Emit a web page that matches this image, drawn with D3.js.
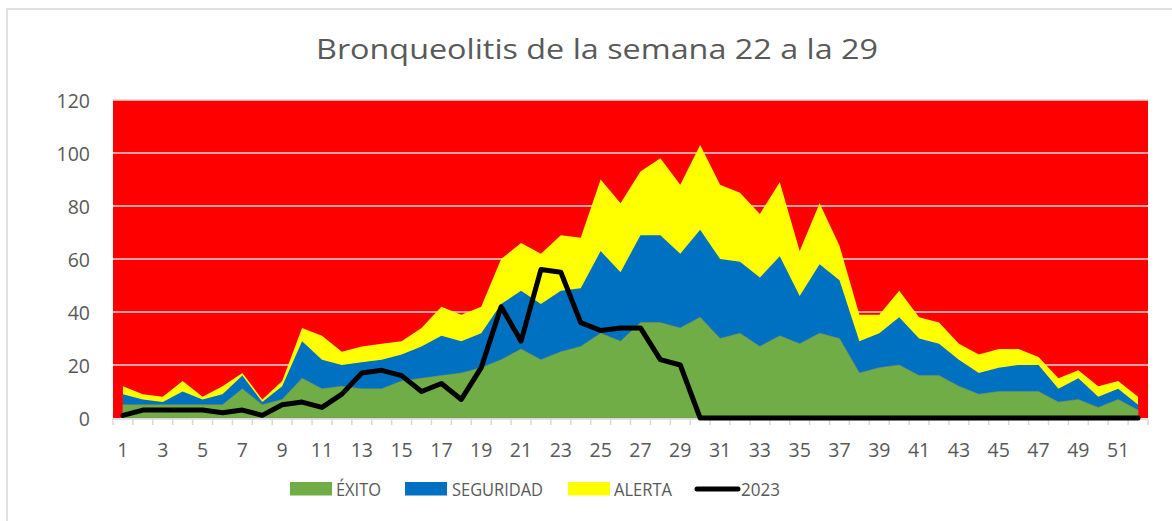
<!DOCTYPE html>
<html>
<head>
<meta charset="utf-8">
<script src="https://cdn.jsdelivr.net/npm/d3@7"></script>
<style>
  html, body { margin: 0; padding: 0; background: #ffffff; }
  svg { display: block; }
  text { font-family: "Open Sans", "Liberation Sans", sans-serif; fill: #595959; }
</style>
</head>
<body>
<svg id="chart" width="1172" height="521"></svg>
<script>
const title = "Bronqueolitis de la semana 22 a la 29";
const weeks = d3.range(1, 53);
const yTicks = [0, 20, 40, 60, 80, 100, 120];
const seriesNames = ["ÉXITO", "SEGURIDAD", "ALERTA", "2023"];
const seriesColors = ["#70ad47", "#0070c0", "#ffff00", "#000000"];

const exito = [5,5,5,5,5,5,11,5,7,15,11,12,11,11,14,15,16,17,19,22,26,22,25,27,32,29,36,36,34,38,30,32,27,31,28,32,30,17,19,20,16,16,12,9,10,10,10,6,7,4,7,3];
const seguridad = [9,7,6,10,7,9,16,6,12,29,22,20,21,22,24,27,31,29,32,43,48,43,48,49,63,55,69,69,62,71,60,59,53,61,46,58,52,29,32,38,30,28,22,17,19,20,20,11,15,8,11,5];
const alerta = [12,9,8,14,8,12,17,7,14,34,31,25,27,28,29,34,42,39,42,60,66,62,69,68,90,81,93,98,88,103,88,85,77,89,63,81,65,39,39,48,38,36,28,24,26,26,23,15,18,12,14,8];
const casos2023 = [1,3,3,3,3,2,3,1,5,6,4,9,17,18,16,10,13,7,19,42,29,56,55,36,33,34,34,22,20,0,0,0,0,0,0,0,0,0,0,0,0,0,0,0,0,0,0,0,0,0,0,0];

const svg = d3.select("#chart");
const W = 1172, H = 521;
const plot = { left: 113, right: 1148, top: 100, bottom: 418 };

// outer chart frame
svg.append("rect").attr("x", 7).attr("y", 9).attr("width", W + 20).attr("height", H + 20)
  .attr("fill", "#ffffff").attr("stroke", "#d9d9d9").attr("stroke-width", 1.5);

const x = d3.scaleBand().domain(weeks).range([plot.left, plot.right]).padding(0);
const cx = w => x(w) + x.bandwidth() / 2;
const y = d3.scaleLinear().domain([0, 120]).range([plot.bottom, plot.top]);

// plot area background
svg.append("rect").attr("x", plot.left).attr("y", plot.top)
  .attr("width", plot.right - plot.left).attr("height", plot.bottom - plot.top)
  .attr("fill", "#ff0000");

// gridlines
svg.append("g").selectAll("line").data(yTicks.filter(d => d > 0)).join("line")
  .attr("x1", plot.left).attr("x2", plot.right)
  .attr("y1", d => y(d)).attr("y2", d => y(d))
  .attr("stroke", "#d9d9d9").attr("stroke-width", 1.5);

// areas (drawn back to front)
const levels = [alerta, seguridad, exito];
const levelColors = [seriesColors[2], seriesColors[1], seriesColors[0]];
levels.forEach((arr, i) => {
  const area = d3.area()
    .x((d, j) => cx(weeks[j]))
    .y0(y(0))
    .y1(d => y(d));
  svg.append("path").datum(arr).attr("d", area)
    .attr("fill", levelColors[i])
    .attr("stroke", i === 2 ? "#7f8f60" : "none").attr("stroke-width", 0.6);
});

// x axis
const xAxis = d3.axisBottom(x).tickSize(6).tickFormat(d => (d % 2 === 1 ? d : ""));
const gx = svg.append("g").attr("transform", `translate(0,${plot.bottom + 1})`).call(xAxis);
gx.select(".domain").attr("stroke", "#d9d9d9").attr("stroke-width", 1.5)
  .attr("d", `M${plot.left},0H${plot.right}`);
// ticks at band edges
gx.selectAll(".tick line").attr("stroke", "#d9d9d9").attr("stroke-width", 1.5)
  .attr("x1", -x.bandwidth() / 2).attr("x2", -x.bandwidth() / 2);
gx.append("line").attr("x1", plot.right).attr("x2", plot.right).attr("y1", 0).attr("y2", 6)
  .attr("stroke", "#d9d9d9").attr("stroke-width", 1.5);
gx.selectAll(".tick text").attr("y", 0).attr("dy", 0)
  .attr("transform", "translate(0,38)")
  .style("font-size", "19.5px").style("fill", "#595959")
  .attr("font-family", null);

// y axis
const yAxis = d3.axisLeft(y).tickValues(yTicks).tickSize(0).tickPadding(0);
const gy = svg.append("g").attr("transform", `translate(90,0)`).call(yAxis);
gy.select(".domain").remove();
gy.selectAll(".tick text").attr("dy", "0.36em").attr("x", 0)
  .style("font-size", "19.5px").style("fill", "#595959");

// 2023 line
const line = d3.line().x((d, j) => cx(weeks[j])).y(d => y(d));
svg.append("path").datum(casos2023).attr("d", line)
  .attr("fill", "none").attr("stroke", "#000000").attr("stroke-width", 5)
  .attr("stroke-linejoin", "round").attr("stroke-linecap", "round");

// title
svg.append("text").attr("x", 597).attr("y", 59).attr("text-anchor", "middle")
  .attr("textLength", 562).attr("lengthAdjust", "spacingAndGlyphs")
  .style("font-size", "26.5px").style("fill", "#595959").text(title);

// legend
const legendItems = [
  { name: seriesNames[0], color: seriesColors[0], x: 290, tx: 336, tw: 45, type: "rect" },
  { name: seriesNames[1], color: seriesColors[1], x: 405, tx: 452, tw: 91, type: "rect" },
  { name: seriesNames[2], color: seriesColors[2], x: 568, tx: 614, tw: 58, type: "rect" },
  { name: seriesNames[3], color: seriesColors[3], x: 697, tx: 741, tw: 39, type: "line" }
];
const lg = svg.append("g");
legendItems.forEach(it => {
  if (it.type === "rect") {
    lg.append("rect").attr("x", it.x).attr("y", 482).attr("width", 42).attr("height", 13.5)
      .attr("fill", it.color);
  } else {
    lg.append("line").attr("x1", it.x).attr("x2", it.x + 41).attr("y1", 489).attr("y2", 489)
      .attr("stroke", it.color).attr("stroke-width", 5).attr("stroke-linecap", "round");
  }
  lg.append("text").attr("x", it.tx).attr("y", 495.5)
    .attr("textLength", it.tw).attr("lengthAdjust", "spacingAndGlyphs")
    .style("font-size", "18px").style("fill", "#595959").text(it.name);
});
</script>
</body>
</html>
